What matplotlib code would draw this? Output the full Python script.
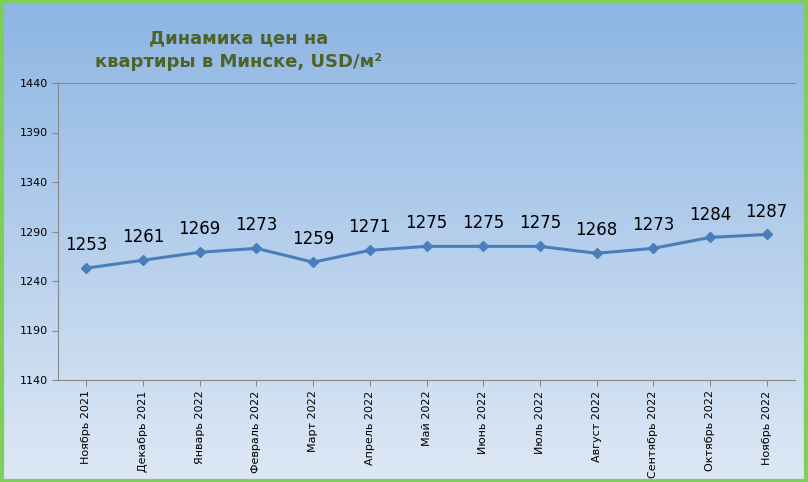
import numpy as np
import matplotlib.pyplot as plt
from matplotlib.patches import Rectangle

months = ["Ноябрь 2021", "Декабрь 2021", "Январь 2022", "Февраль 2022", "Март 2022",
          "Апрель 2022", "Май 2022", "Июнь 2022", "Июль 2022", "Август 2022",
          "Сентябрь 2022", "Октябрь 2022", "Ноябрь 2022"]
prices = [1253, 1261, 1269, 1273, 1259, 1271, 1275, 1275, 1275, 1268, 1273, 1284, 1287]
yticks = [1140, 1190, 1240, 1290, 1340, 1390, 1440]

fig = plt.figure(figsize=(8.08, 4.82), dpi=100)

# gradient background over whole figure
bg = fig.add_axes([0, 0, 1, 1], zorder=0)
grad = np.linspace(0, 1, 256).reshape(-1, 1)
top = np.array([0.55, 0.71, 0.89])
bottom = np.array([0.87, 0.91, 0.96])
img = top + (bottom - top) * grad[:, :, None]
bg.imshow(img, aspect="auto", extent=[0, 1, 0, 1])
bg.add_patch(Rectangle((0.002, 0.003), 0.996, 0.994, fill=False, edgecolor="#7dcf5a",
                       linewidth=3, transform=bg.transAxes))
bg.axis("off")

ax = fig.add_axes([58 / 808, 1 - 380 / 482, (795 - 58) / 808, (380 - 83) / 482], zorder=1)
ax.patch.set_alpha(0)
x = np.arange(len(months))
ax.plot(x, prices, color="#4a7ebb", linewidth=2.2, marker="D", markersize=5)
for xi, p in zip(x, prices):
    ax.annotate(str(p), (xi, p), xytext=(0, 10), textcoords="offset points",
                ha="center", va="bottom", fontsize=12)

ax.set_xlim(-0.5, len(months) - 0.5)
ax.set_ylim(1140, 1440)
ax.set_yticks(yticks)
ax.set_yticklabels([str(t) for t in yticks], fontsize=8)
ax.set_xticks(x)
ax.set_xticklabels(months, rotation=90, fontsize=8)
ax.tick_params(axis="x", length=4, color="#888888")
ax.tick_params(axis="y", length=4, color="#888888")
ax.spines["right"].set_visible(False)
for s in ["top", "left", "bottom"]:
    ax.spines[s].set_color("#888888")

fig.text(0.295, 0.94, "Динамика цен на\nквартиры в Минске, USD/м²", ha="center", va="top",
         fontsize=13, fontweight="bold", color="#4f6228", linespacing=1.4)

fig.savefig("out.png", dpi=100)
